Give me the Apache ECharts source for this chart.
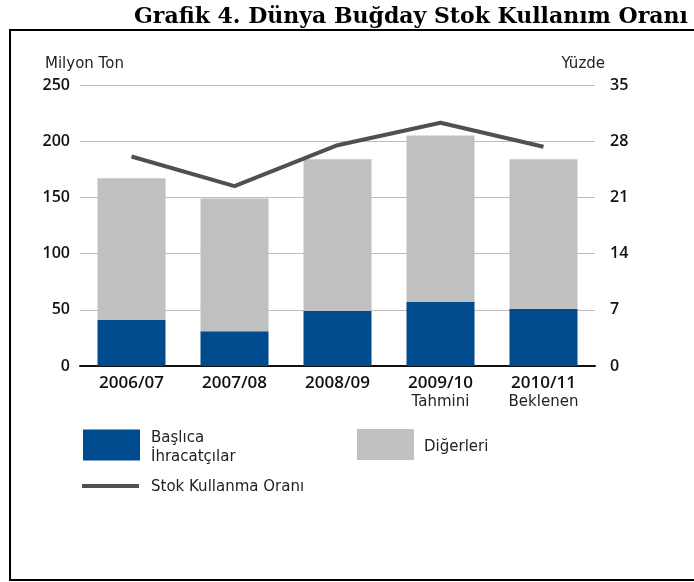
<!DOCTYPE html>
<html>
<head>
<meta charset="utf-8">
<title>Grafik 4</title>
<script src="https://cdn.jsdelivr.net/npm/echarts@6/dist/echarts.min.js"></script>
<style>
  html, body { margin: 0; padding: 0; background: #fff; }
  #chart { width: 694px; height: 582px; }
</style>
</head>
<body>
<div id="chart"></div>
<script>
// sezonlar ve alt etiketler
const seasons = ['2006/07', '2007/08', '2008/09', '2009/10', '2010/11']
const seasonNotes = ['', '', '', 'Tahmini', 'Beklenen']
// milyon ton
const majorExporters = [41, 31, 49, 57, 51]
const others = [126, 118, 135, 148, 133]
// yüzde
const stockUseRatio = [26.1, 22.4, 27.5, 30.3, 27.3]
const leftTicks = [0, 50, 100, 150, 200, 250]
const rightTicks = [0, 7, 14, 21, 28, 35]

const categories = seasons.map((s, i) => seasonNotes[i] ? s + '\n' + seasonNotes[i] : s)

const chart = echarts.init(document.getElementById('chart'))
const tickFont = { color: '#111', fontSize: 16, fontFamily: 'Open Sans', fontWeight: 600 }
const labelFont = { fontFamily: 'DejaVu Sans', fontSize: 15, color: '#222' }

// legend yazısını biraz aşağı/sağa kaydırmak için rich kullanılıyor
const legendRich = (topPad, leftPad) => ({
  formatter: (name) => name.split('\n').map((l, i) => (i === 0 ? '{a|' : '{b|') + l + '}').join('\n'),
  textStyle: Object.assign({
    rich: {
      a: Object.assign({ lineHeight: 21, padding: [topPad, 0, 0, leftPad] }, labelFont),
      b: Object.assign({ lineHeight: 21, padding: [4, 0, 0, leftPad] }, labelFont)
    }
  }, labelFont)
})

const option = {
  animation: false,
  backgroundColor: '#fff',
  title: {
    text: 'Grafik 4. Dünya Buğday Stok Kullanım Oranı',
    left: 129,
    top: 1,
    textStyle: { fontFamily: 'DejaVu Serif', fontWeight: 'bold', fontSize: 22, color: '#000' }
  },
  graphic: [
    {
      type: 'rect',
      shape: { x: 10, y: 30, width: 700, height: 550 },
      style: { fill: 'none', stroke: '#000', lineWidth: 2 },
      z: 100
    }
  ],
  grid: { left: 80, right: 99, top: 85, bottom: 216 },
  legend: [
    Object.assign({
      data: ['Başlıca\nİhracatçılar'],
      left: 83, top: 423, padding: 0,
      icon: 'rect', itemWidth: 57, itemHeight: 31, itemGap: 12
    }, legendRich(8, 6)),
    Object.assign({
      data: ['Diğerleri'],
      left: 357, top: 429, padding: 0,
      icon: 'rect', itemWidth: 57, itemHeight: 31, itemGap: 10
    }, legendRich(6, 5)),
    Object.assign({
      data: ['Stok Kullanma Oranı'],
      left: 82, top: 477, padding: 0,
      icon: 'rect', itemWidth: 57, itemHeight: 4, itemGap: 13
    }, legendRich(3, 7))
  ],
  xAxis: {
    type: 'category',
    data: categories,
    axisTick: { show: false },
    axisLine: { lineStyle: { color: '#111', width: 2 } },
    axisLabel: {
      margin: 7,
      formatter: function (v) {
        const parts = v.split('\n')
        return parts.length > 1 ? '{y|' + parts[0] + '}\n{n|' + parts[1] + '}' : '{y|' + parts[0] + '}'
      },
      rich: {
        y: { fontFamily: 'Open Sans', fontWeight: 600, fontSize: 17, color: '#111', lineHeight: 20 },
        n: { fontFamily: 'DejaVu Sans', fontSize: 15, color: '#222', lineHeight: 18 }
      }
    }
  },
  yAxis: [
    {
      type: 'value',
      min: leftTicks[0], max: leftTicks[leftTicks.length - 1], interval: 50,
      name: 'Milyon Ton',
      nameLocation: 'end',
      nameGap: 13,
      nameTextStyle: Object.assign({ align: 'left', padding: [0, 0, 0, -35] }, labelFont),
      axisLine: { show: false },
      axisTick: { show: false },
      axisLabel: Object.assign({ margin: 10 }, tickFont),
      splitLine: { lineStyle: { color: '#bdbdbd', width: 1 } }
    },
    {
      type: 'value',
      min: rightTicks[0], max: rightTicks[rightTicks.length - 1], interval: 7,
      name: 'Yüzde',
      nameLocation: 'end',
      nameGap: 13,
      nameTextStyle: Object.assign({ align: 'right', padding: [0, -10, 0, 0] }, labelFont),
      axisLine: { show: false },
      axisTick: { show: false },
      axisLabel: Object.assign({ margin: 15 }, tickFont),
      splitLine: { show: false }
    }
  ],
  series: [
    {
      name: 'Başlıca\nİhracatçılar',
      type: 'bar',
      stack: 'total',
      barWidth: 68,
      data: majorExporters,
      itemStyle: { color: '#004b8d' }
    },
    {
      name: 'Diğerleri',
      type: 'bar',
      stack: 'total',
      barWidth: 68,
      data: others,
      itemStyle: { color: '#c0c0c0' }
    },
    {
      name: 'Stok Kullanma Oranı',
      type: 'line',
      yAxisIndex: 1,
      data: stockUseRatio,
      symbol: 'none',
      itemStyle: { color: '#505050' },
      lineStyle: { color: '#505050', width: 4 },
      z: 5
    }
  ]
}

chart.setOption(option)
</script>
</body>
</html>
